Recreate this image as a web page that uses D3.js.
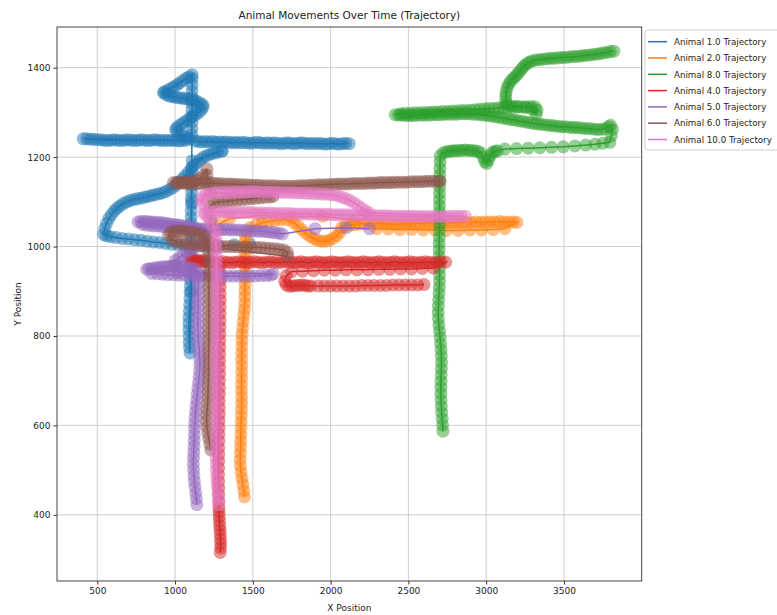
<!DOCTYPE html>
<html lang="en">
<head>
  <meta charset="UTF-8">
  <title>Animal Movements Over Time (Trajectory)</title>
</head>
<body>
<style>
  * {
    padding: 0;
    margin: 0;
  }

  #app {
    width: 777px;
    height: 615px;
    background: #fff;
  }

  #app svg {
    width: 100%;
    height: 100%;
    font-family: "DejaVu Sans", sans-serif;
  }
</style>

<div id="app"></div>

<script src="https://cdn.jsdelivr.net/npm/d3@7"></script>
<script>
  // legend order as in the figure
  var animals = ["1.0", "2.0", "8.0", "4.0", "5.0", "6.0", "10.0"];
  var colors = ["#1f77b4", "#ff7f0e", "#2ca02c", "#d62728", "#9467bd", "#8c564b", "#e377c2"];
  var xTicks = [500, 1000, 1500, 2000, 2500, 3000, 3500];
  var yTicks = [400, 600, 800, 1000, 1200, 1400];

  // positions, [x, y] in the order the animal walked
  var animal1 = [
    [1480, 1006], [1380, 1004], [1280, 1002], [1180, 1001], [1100, 1000],
    [1060, 1002], [1020, 1004], [980, 1005], [940, 1007], [900, 1009], [860, 1010], [820, 1012], [780, 1014], [740, 1015], [700, 1017],
    [660, 1018], [620, 1020], [585, 1022], [560, 1024], [540, 1027],
    [548, 1040], [560, 1052], [575, 1063], [592, 1072], [610, 1080], [628, 1086], [646, 1091], [668, 1096], [690, 1100], [712, 1103],
    [735, 1105], [758, 1107], [780, 1108], [803, 1110], [826, 1112], [849, 1114], [872, 1116], [895, 1118], [918, 1120], [940, 1123],
    [962, 1127], [984, 1131], [1005, 1137], [1025, 1144], [1045, 1151], [1065, 1158], [1085, 1166], [1105, 1174], [1125, 1182], [1145, 1189],
    [1165, 1195], [1185, 1200], [1207, 1204], [1230, 1207], [1252, 1209], [1275, 1211], [1298, 1213], [1305, 1214],
    [1110, 1192], [1109, 1178], [1108, 1164], [1107, 1150], [1106, 1136], [1106, 1122], [1105, 1108], [1105, 1094], [1104, 1080], [1104, 1066],
    [1103, 1052], [1103, 1038], [1102, 1024], [1102, 1010], [1101, 996], [1101, 982], [1100, 968], [1100, 954], [1099, 940], [1099, 926],
    [1098, 912], [1097, 898], [1096, 884], [1094, 870], [1092, 856], [1090, 842], [1089, 828], [1089, 814], [1090, 800], [1091, 786],
    [1093, 774], [1096, 762],
    [1104, 900], [1107, 1100], [1108, 1250], [1108, 1264], [1108, 1278], [1108, 1292], [1109, 1306], [1109, 1320], [1109, 1334], [1109, 1348],
    [1110, 1362], [1110, 1376], [1110, 1384],
    [1090, 1380], [1070, 1376], [1050, 1371], [1030, 1366], [1010, 1361], [990, 1357], [970, 1353], [950, 1349], [932, 1346], [925, 1344],
    [940, 1340], [960, 1337], [980, 1335], [1000, 1334], [1020, 1333], [1040, 1332], [1060, 1331], [1080, 1330], [1100, 1329], [1120, 1327],
    [1140, 1325], [1160, 1321], [1178, 1317], [1180, 1312], [1168, 1305], [1150, 1299], [1130, 1294], [1110, 1290], [1090, 1285], [1070, 1281],
    [1050, 1276], [1030, 1271], [1012, 1266], [1003, 1261], [1015, 1256], [1035, 1251], [1055, 1247], [1075, 1243], [1095, 1240],
    [1070, 1238], [1048, 1237], [1026, 1236], [1004, 1237], [982, 1238], [960, 1237], [938, 1238], [916, 1237], [894, 1238], [872, 1239],
    [850, 1238], [828, 1237], [806, 1238], [784, 1239], [762, 1238], [740, 1237], [718, 1238], [696, 1239], [674, 1238], [652, 1237],
    [630, 1238], [608, 1239], [586, 1238], [564, 1237], [542, 1238], [520, 1239], [498, 1239], [476, 1240], [454, 1240], [432, 1241], [410, 1241],
    [1130, 1236], [1152, 1235], [1174, 1234], [1196, 1235], [1218, 1234], [1240, 1235], [1262, 1233], [1284, 1234], [1306, 1233], [1328, 1234],
    [1350, 1233], [1372, 1232], [1394, 1233], [1416, 1232], [1438, 1233], [1460, 1232], [1482, 1231], [1504, 1232], [1526, 1233], [1548, 1232],
    [1570, 1231], [1592, 1232], [1614, 1231], [1636, 1232], [1658, 1231], [1680, 1230], [1702, 1231], [1724, 1232], [1746, 1231], [1768, 1230],
    [1790, 1231], [1812, 1232], [1834, 1231], [1856, 1230], [1878, 1231], [1900, 1230], [1922, 1231], [1944, 1230], [1966, 1229], [1988, 1230],
    [2010, 1231], [2032, 1230], [2054, 1229], [2076, 1230], [2098, 1231], [2120, 1230]
  ];

  var animal2 = [
    [1446, 440], [1442, 454], [1436, 468], [1430, 482], [1424, 496], [1420, 510], [1419, 524], [1420, 538], [1421, 552], [1422, 566],
    [1423, 580], [1424, 594], [1425, 608], [1426, 622], [1427, 636], [1428, 650], [1428, 664], [1427, 678], [1427, 692], [1428, 706],
    [1428, 720], [1429, 734], [1428, 748], [1429, 762], [1429, 776], [1430, 790], [1431, 804], [1434, 818], [1438, 832], [1442, 846],
    [1446, 860], [1448, 874], [1449, 888], [1449, 902], [1450, 916], [1450, 930], [1450, 944], [1451, 958], [1451, 972], [1452, 986],
    [1452, 1000], [1452, 1012], [1453, 1024],
    [1480, 1042], [1520, 1048], [1560, 1053], [1600, 1056], [1640, 1058], [1680, 1060], [1720, 1060], [1760, 1054],
    [1790, 1046], [1815, 1038], [1840, 1030], [1865, 1023], [1890, 1018], [1915, 1014], [1940, 1012], [1965, 1012], [1990, 1014], [2015, 1018],
    [2040, 1024], [2060, 1032], [2070, 1042],
    [2095, 1047], [2125, 1048], [2155, 1049], [2185, 1050], [2215, 1051], [2245, 1052], [2275, 1052], [2305, 1052], [2335, 1051], [2365, 1051],
    [2395, 1050], [2425, 1050], [2455, 1050], [2485, 1051], [2515, 1051], [2545, 1052], [2575, 1052], [2605, 1052], [2635, 1053], [2665, 1052],
    [2695, 1053], [2725, 1053], [2755, 1053], [2785, 1054], [2815, 1053], [2845, 1054], [2875, 1054], [2905, 1054], [2935, 1055], [2965, 1054],
    [2995, 1055], [3025, 1055], [3055, 1055], [3085, 1056], [3115, 1055], [3145, 1055], [3175, 1055], [3198, 1054],
    [3120, 1040], [3045, 1038], [2970, 1037], [2895, 1037], [2820, 1036], [2745, 1036], [2670, 1037], [2595, 1037], [2520, 1038], [2445, 1038],
    [2370, 1039], [2295, 1040],
    [2150, 1060], [1950, 1068], [1750, 1066], [1550, 1070], [1350, 1062], [1280, 1050]
  ];

  var animal8 = [
    [2722, 587], [2720, 601], [2717, 615], [2714, 629], [2712, 643], [2710, 657], [2709, 671], [2709, 685], [2710, 699], [2711, 713],
    [2712, 727], [2713, 741], [2712, 755], [2710, 769], [2707, 783], [2704, 797], [2700, 811], [2696, 825], [2693, 839], [2692, 853],
    [2693, 867], [2695, 881], [2697, 895], [2699, 909], [2700, 923], [2700, 937], [2700, 951], [2699, 965], [2698, 979], [2698, 993],
    [2698, 1007], [2699, 1021], [2700, 1035], [2701, 1049], [2701, 1063], [2701, 1077], [2700, 1091], [2700, 1105], [2700, 1119], [2701, 1133],
    [2702, 1147], [2702, 1161], [2703, 1175], [2704, 1189], [2705, 1203],
    [2725, 1210], [2745, 1212], [2765, 1213], [2785, 1214], [2805, 1214], [2825, 1215], [2845, 1215], [2865, 1216], [2885, 1215], [2905, 1215],
    [2925, 1214], [2945, 1213], [2965, 1210], [2980, 1200], [2992, 1190], [3004, 1186], [3015, 1194], [3028, 1204], [3042, 1211], [3058, 1213],
    [3072, 1214],
    [3120, 1218], [3195, 1219], [3270, 1220], [3345, 1221], [3420, 1222], [3495, 1223], [3570, 1225], [3640, 1227], [3700, 1229], [3750, 1231], [3795, 1233],
    [3805, 1248], [3812, 1262], [3800, 1271], [3785, 1268],
    [3760, 1263], [3735, 1262], [3710, 1262], [3685, 1263], [3660, 1264], [3635, 1264], [3610, 1265], [3585, 1266], [3560, 1266], [3535, 1267],
    [3510, 1268], [3485, 1268], [3460, 1269], [3435, 1270], [3410, 1271], [3385, 1272], [3360, 1273], [3335, 1274], [3310, 1275], [3285, 1277],
    [3260, 1278], [3235, 1280], [3210, 1281], [3185, 1283], [3160, 1284], [3135, 1286], [3110, 1287], [3085, 1289], [3060, 1290], [3035, 1292],
    [3010, 1293], [2985, 1294], [2960, 1295],
    [2935, 1296], [2910, 1296], [2885, 1297], [2860, 1297], [2835, 1297], [2810, 1296], [2785, 1296], [2760, 1296], [2735, 1296], [2710, 1295],
    [2685, 1295], [2660, 1295], [2635, 1294], [2610, 1294], [2585, 1294], [2560, 1294], [2535, 1293], [2510, 1293], [2485, 1293], [2460, 1294],
    [2438, 1294], [2416, 1295],
    [2450, 1297], [2480, 1298], [2510, 1298], [2540, 1299], [2570, 1299], [2600, 1300], [2630, 1300], [2660, 1301], [2690, 1301], [2720, 1302],
    [2750, 1302], [2780, 1303], [2810, 1303], [2840, 1304], [2870, 1304], [2900, 1305], [2930, 1306], [2960, 1307], [2990, 1308], [3020, 1309],
    [3050, 1309], [3080, 1310], [3110, 1311], [3140, 1311], [3170, 1311], [3200, 1312], [3230, 1312], [3260, 1312], [3290, 1313], [3315, 1312],
    [3327, 1305], [3322, 1296],
    [3290, 1308], [3250, 1312], [3200, 1314], [3160, 1315], [3130, 1317],
    [3126, 1325], [3126, 1335], [3128, 1345], [3134, 1355], [3145, 1363], [3158, 1370], [3172, 1375], [3186, 1380], [3200, 1385], [3214, 1391],
    [3228, 1397], [3242, 1403], [3258, 1408], [3275, 1412], [3295, 1415], [3318, 1417], [3342, 1418], [3366, 1419], [3390, 1420], [3414, 1421],
    [3438, 1421], [3462, 1422], [3486, 1423], [3510, 1423], [3534, 1424], [3558, 1425], [3582, 1425], [3606, 1426], [3630, 1427], [3654, 1428],
    [3678, 1429], [3702, 1430], [3726, 1431], [3750, 1433], [3774, 1434], [3798, 1436], [3821, 1437]
  ];

  var animal4 = [
    [1290, 316], [1293, 326], [1293, 336], [1292, 346], [1291, 356], [1289, 366], [1287, 376], [1285, 386], [1284, 396], [1283, 406],
    [1282, 416], [1282, 430], [1281, 445], [1281, 460], [1280, 475], [1280, 490], [1280, 505], [1280, 520], [1281, 535], [1281, 550],
    [1282, 565], [1282, 580], [1283, 595], [1283, 610], [1284, 625], [1284, 640], [1284, 655], [1285, 670], [1285, 685], [1285, 700],
    [1286, 715], [1286, 730], [1286, 745], [1287, 760], [1287, 775], [1288, 790], [1288, 805], [1289, 820], [1289, 835], [1290, 850],
    [1290, 865], [1290, 880], [1290, 895], [1290, 910], [1290, 925], [1289, 940], [1288, 955],
    [1260, 962], [1235, 965], [1210, 967], [1185, 968], [1160, 969], [1135, 970], [1110, 970], [1090, 972],
    [1110, 967], [1135, 966], [1160, 966], [1185, 965], [1210, 966], [1235, 965], [1260, 964], [1285, 965], [1310, 966], [1335, 965],
    [1360, 964], [1385, 965], [1410, 966], [1435, 965], [1460, 964], [1485, 965], [1510, 966], [1535, 965], [1560, 964], [1585, 965],
    [1610, 966], [1635, 965], [1660, 964], [1685, 965], [1710, 966], [1735, 965], [1760, 964], [1785, 965], [1810, 966], [1835, 965],
    [1860, 964], [1885, 965], [1910, 966], [1935, 965], [1960, 964], [1985, 965], [2010, 966], [2035, 965], [2060, 964], [2085, 965],
    [2110, 966], [2135, 965], [2160, 964], [2185, 965], [2210, 966], [2235, 965], [2260, 964], [2285, 965], [2310, 966], [2335, 965],
    [2360, 964], [2385, 965], [2410, 966], [2435, 965], [2460, 964], [2485, 965], [2510, 966], [2535, 965], [2560, 964], [2585, 965],
    [2610, 966], [2635, 965], [2660, 964], [2685, 965], [2710, 966], [2740, 965],
    [2660, 952], [2590, 951], [2520, 950], [2450, 950], [2380, 949], [2310, 949], [2240, 948], [2170, 948], [2100, 948], [2030, 947],
    [1960, 947], [1890, 946], [1820, 945], [1750, 944],
    [1715, 935], [1705, 922], [1715, 914], [1735, 911], [1755, 912], [1775, 913], [1795, 913], [1815, 914], [1835, 913], [1855, 912], [1875, 912],
    [1920, 912], [1960, 912], [2000, 912], [2040, 912], [2080, 912], [2120, 912], [2160, 912], [2200, 913], [2240, 913], [2280, 913],
    [2320, 913], [2360, 913], [2400, 914], [2440, 914], [2480, 914], [2520, 914], [2560, 914], [2600, 915]
  ];

  var animal5 = [
    [1140, 423], [1137, 436], [1133, 449], [1128, 462], [1124, 475], [1121, 488], [1119, 501], [1118, 514], [1119, 527], [1120, 540],
    [1122, 553], [1123, 566], [1124, 579], [1125, 592], [1127, 605], [1129, 618], [1132, 631], [1135, 644], [1139, 657], [1143, 670],
    [1147, 683], [1151, 696], [1155, 709], [1158, 722], [1160, 735], [1159, 748], [1157, 761], [1154, 774], [1151, 787], [1149, 800],
    [1147, 813], [1146, 826], [1146, 839], [1147, 852], [1147, 865], [1148, 878], [1149, 891], [1150, 904], [1150, 917], [1148, 930],
    [1142, 942], [1130, 950],
    [1110, 952], [1090, 953], [1070, 954], [1050, 955], [1030, 955], [1010, 956], [990, 956], [970, 956], [950, 955], [930, 955],
    [910, 954], [890, 953], [870, 952], [850, 951], [832, 950], [818, 949],
    [850, 940], [885, 939], [920, 938], [955, 937], [990, 937], [1025, 936], [1060, 936], [1095, 936], [1130, 935], [1165, 935],
    [1200, 935], [1235, 934], [1270, 934], [1305, 934], [1340, 934], [1375, 934], [1410, 934], [1445, 934], [1480, 934], [1515, 934],
    [1550, 935], [1585, 935], [1615, 936], [1632, 939],
    [1020, 942], [1000, 958],
    [1000, 968], [1025, 975], [1050, 982], [1075, 988], [1100, 993], [1125, 997], [1150, 1001], [1170, 1006], [1185, 1013], [1185, 1025],
    [1160, 1036], [1140, 1039], [1120, 1041], [1100, 1043], [1080, 1045], [1060, 1046], [1040, 1047], [1020, 1048], [1000, 1049], [980, 1050],
    [960, 1051], [940, 1052], [920, 1053], [900, 1054], [880, 1054], [860, 1055], [840, 1055], [820, 1056], [800, 1056], [780, 1056], [762, 1055],
    [790, 1050], [815, 1048], [840, 1047], [865, 1046], [890, 1046], [915, 1045], [940, 1044], [965, 1044], [990, 1043], [1015, 1042],
    [1040, 1041], [1065, 1041], [1090, 1040], [1115, 1040], [1140, 1040], [1165, 1040], [1190, 1039], [1215, 1039], [1240, 1039], [1265, 1038],
    [1290, 1038], [1315, 1038], [1340, 1038], [1365, 1037], [1390, 1037], [1415, 1037], [1440, 1036], [1465, 1036], [1490, 1035], [1515, 1035],
    [1540, 1034], [1565, 1034], [1590, 1033], [1615, 1032], [1640, 1031], [1665, 1030], [1690, 1028],
    [1900, 1040], [2100, 1042], [2250, 1040]
  ];

  var animal6 = [
    [1230, 545], [1224, 558], [1217, 571], [1210, 584], [1205, 597], [1203, 610], [1204, 623], [1207, 636], [1209, 649], [1211, 662],
    [1212, 675], [1213, 688], [1214, 701], [1215, 714], [1215, 727], [1216, 740], [1216, 753], [1216, 766], [1216, 779], [1217, 792],
    [1217, 805], [1217, 818], [1218, 831], [1218, 844], [1218, 857], [1218, 870], [1218, 883], [1218, 896], [1218, 909], [1218, 922],
    [1218, 935], [1217, 948], [1217, 961], [1216, 974], [1215, 987], [1213, 1000], [1210, 1013],
    [1190, 1024], [1165, 1028], [1140, 1030], [1115, 1032], [1090, 1033], [1065, 1034], [1040, 1035], [1015, 1035], [990, 1034], [970, 1032], [958, 1026],
    [980, 1014], [1010, 1010], [1040, 1008], [1070, 1006], [1100, 1005], [1130, 1004], [1160, 1003], [1190, 1003], [1220, 1002], [1250, 1001],
    [1280, 1001], [1310, 1000], [1340, 1000], [1370, 1000], [1400, 999], [1430, 999], [1460, 999], [1490, 998], [1520, 998], [1550, 998],
    [1580, 997], [1610, 996], [1640, 995], [1670, 994], [1700, 992], [1722, 987], [1725, 978],
    [1260, 998], [1232, 1010], [1230, 1060], [1225, 1090],
    [1250, 1098], [1280, 1100], [1310, 1101], [1340, 1102], [1370, 1103], [1400, 1104], [1430, 1105], [1460, 1106], [1490, 1107], [1520, 1108],
    [1550, 1109], [1580, 1110], [1610, 1111], [1630, 1112],
    [1230, 1120], [1210, 1140], [1205, 1160], [1205, 1174],
    [1185, 1160], [1160, 1152], [1135, 1148], [1110, 1146], [1085, 1145], [1060, 1144], [1035, 1143], [1010, 1143], [990, 1143],
    [1015, 1142], [1040, 1142], [1065, 1141], [1090, 1141], [1115, 1141], [1140, 1140], [1165, 1141], [1190, 1142], [1215, 1143], [1240, 1142],
    [1265, 1141], [1290, 1141], [1315, 1140], [1340, 1140], [1365, 1140], [1390, 1139], [1415, 1139], [1440, 1138], [1465, 1138], [1490, 1137],
    [1515, 1137], [1540, 1137], [1565, 1136], [1590, 1136], [1615, 1136], [1640, 1136], [1665, 1135], [1690, 1135], [1715, 1135], [1740, 1135],
    [1765, 1135], [1790, 1136], [1815, 1136], [1840, 1136], [1865, 1137], [1890, 1137], [1915, 1138], [1940, 1138], [1965, 1138], [1990, 1139],
    [2015, 1139], [2040, 1140], [2065, 1140], [2090, 1140], [2115, 1140], [2140, 1141], [2165, 1141], [2190, 1141], [2215, 1141], [2240, 1142],
    [2265, 1142], [2290, 1142], [2315, 1143], [2340, 1143], [2365, 1143], [2390, 1143], [2415, 1144], [2440, 1144], [2465, 1144], [2490, 1144],
    [2515, 1145], [2540, 1145], [2565, 1145], [2590, 1145], [2615, 1146], [2640, 1146], [2665, 1146], [2690, 1146], [2704, 1146]
  ];

  var animal10 = [
    [1280, 423], [1278, 436], [1275, 449], [1272, 462], [1269, 475], [1267, 488], [1265, 501], [1264, 514], [1264, 527], [1265, 540],
    [1265, 553], [1266, 566], [1266, 579], [1267, 592], [1267, 605], [1268, 618], [1268, 631], [1268, 644], [1268, 657], [1268, 670],
    [1267, 683], [1267, 696], [1266, 709], [1266, 722], [1265, 735], [1265, 748], [1265, 761], [1265, 774], [1266, 787], [1266, 800],
    [1267, 813], [1267, 826], [1268, 839], [1268, 852], [1268, 865], [1268, 878], [1268, 891], [1267, 904], [1267, 917], [1266, 930],
    [1266, 943], [1266, 956], [1266, 969], [1265, 982], [1265, 995], [1264, 1008], [1263, 1021], [1262, 1034],
    [1240, 1050], [1215, 1062], [1190, 1072],
    [1190, 1077], [1215, 1078], [1240, 1078], [1265, 1077], [1290, 1077], [1315, 1077], [1340, 1077], [1365, 1076], [1390, 1076], [1415, 1076],
    [1440, 1076], [1465, 1076], [1490, 1076], [1515, 1075], [1540, 1075], [1565, 1075], [1590, 1075], [1615, 1075], [1640, 1074], [1665, 1074],
    [1690, 1074], [1715, 1074], [1740, 1074], [1765, 1073], [1790, 1073], [1815, 1073], [1840, 1073], [1865, 1073], [1890, 1072], [1915, 1072],
    [1940, 1072], [1965, 1072], [1990, 1072], [2015, 1071], [2040, 1071], [2065, 1071], [2090, 1071], [2115, 1071], [2140, 1070], [2165, 1070],
    [2190, 1070], [2215, 1070], [2240, 1070], [2265, 1069], [2290, 1069], [2315, 1069], [2340, 1069], [2365, 1069], [2390, 1068], [2415, 1068],
    [2440, 1068], [2465, 1068], [2490, 1068], [2515, 1068], [2540, 1068], [2565, 1067], [2590, 1067], [2615, 1067], [2640, 1067], [2665, 1067],
    [2690, 1067], [2715, 1067], [2740, 1067], [2765, 1067], [2790, 1068], [2815, 1068], [2840, 1068], [2866, 1068],
    [2250, 1075],
    [2225, 1080], [2200, 1086], [2175, 1092], [2150, 1098], [2125, 1103], [2100, 1107], [2075, 1110], [2050, 1113], [2025, 1115], [2000, 1116],
    [1975, 1117], [1950, 1117], [1925, 1118], [1900, 1118], [1875, 1119], [1850, 1119], [1825, 1120], [1800, 1120], [1775, 1120], [1750, 1121],
    [1725, 1121], [1700, 1121], [1675, 1121], [1650, 1122], [1625, 1122], [1600, 1122], [1575, 1122], [1550, 1122], [1525, 1123], [1500, 1123],
    [1475, 1123], [1450, 1122], [1425, 1122], [1400, 1122], [1375, 1122], [1350, 1121], [1325, 1121], [1300, 1121], [1275, 1120], [1250, 1120],
    [1225, 1119], [1200, 1117], [1180, 1112], [1170, 1104], [1175, 1095]
  ];

  var tracks = [animal1, animal2, animal8, animal4, animal5, animal6, animal10];

  var W = 777, H = 615,
    m = {left: 57, right: 777 - 641.7, top: 27, bottom: 615 - 581};

  var svg = d3.select('#app').append('svg').attr('viewBox', '0,0 ' + W + ',' + H);

  var x = d3.scaleLinear().domain([241, 4000]).range([m.left, W - m.right]);
  var y = d3.scaleLinear().domain([252, 1491]).range([H - m.bottom, m.top]);

  // grid
  svg.append('g').selectAll('line').data(xTicks).join('line')
    .attr('x1', d => x(d)).attr('x2', d => x(d))
    .attr('y1', y.range()[0]).attr('y2', y.range()[1])
    .attr('stroke', '#c8c8c8').attr('stroke-width', 0.9);
  svg.append('g').selectAll('line').data(yTicks).join('line')
    .attr('y1', d => y(d)).attr('y2', d => y(d))
    .attr('x1', x.range()[0]).attr('x2', x.range()[1])
    .attr('stroke', '#c8c8c8').attr('stroke-width', 0.9);

  svg.append('clipPath').attr('id', 'plot')
    .append('rect').attr('x', x.range()[0]).attr('y', y.range()[1])
    .attr('width', x.range()[1] - x.range()[0]).attr('height', y.range()[0] - y.range()[1]);

  var plot = svg.append('g').attr('clip-path', 'url(#plot)');
  var line = d3.line().x(d => x(d[0])).y(d => y(d[1]));

  tracks.forEach(function (pts, i) {
    var g = plot.append('g');
    g.append('path')
      .attr('d', line(pts))
      .attr('fill', 'none').attr('stroke', colors[i]).attr('stroke-width', 1.5);
    g.selectAll('circle').data(pts).join('circle')
      .attr('cx', d => x(d[0])).attr('cy', d => y(d[1])).attr('r', 6.5)
      .attr('fill', colors[i]).attr('fill-opacity', 0.5);
  });

  // axes
  var fmt = d3.format('d');
  var xAxis = svg.append('g').attr('transform', 'translate(0,' + y.range()[0] + ')')
    .call(d3.axisBottom(x).tickValues(xTicks).tickFormat(fmt).tickSize(3.5).tickSizeOuter(0).tickPadding(3));
  var yAxis = svg.append('g').attr('transform', 'translate(' + x.range()[0] + ',0)')
    .call(d3.axisLeft(y).tickValues(yTicks).tickFormat(fmt).tickSize(3.5).tickSizeOuter(0).tickPadding(3));
  [xAxis, yAxis].forEach(function (a) {
    a.select('.domain').remove();
    a.selectAll('line').attr('stroke', '#333');
    a.selectAll('text').attr('font-family', '"DejaVu Sans", sans-serif').attr('font-size', 9).attr('fill', '#222');
  });

  svg.append('rect')
    .attr('x', x.range()[0]).attr('y', y.range()[1])
    .attr('width', x.range()[1] - x.range()[0]).attr('height', y.range()[0] - y.range()[1])
    .attr('fill', 'none').attr('stroke', '#333').attr('stroke-width', 0.9);

  svg.append('text').attr('x', (x.range()[0] + x.range()[1]) / 2).attr('y', 19)
    .attr('text-anchor', 'middle').attr('font-size', 10.5).attr('fill', '#222')
    .text('Animal Movements Over Time (Trajectory)');
  svg.append('text').attr('x', (x.range()[0] + x.range()[1]) / 2).attr('y', 611)
    .attr('text-anchor', 'middle').attr('font-size', 9).attr('fill', '#222')
    .text('X Position');
  svg.append('text').attr('transform', 'translate(21,' + ((y.range()[0] + y.range()[1]) / 2) + ') rotate(-90)')
    .attr('text-anchor', 'middle').attr('font-size', 9).attr('fill', '#222')
    .text('Y Position');

  // legend
  var legend = svg.append('g').attr('transform', 'translate(645,30)');
  legend.append('rect').attr('width', 140).attr('height', 120).attr('rx', 3)
    .attr('fill', '#fff').attr('fill-opacity', 0.8).attr('stroke', '#d0d0d0');
  var item = legend.selectAll('g.item').data(animals).join('g').attr('class', 'item')
    .attr('transform', (d, i) => 'translate(0,' + (11.7 + i * 16.3) + ')');
  item.append('line').attr('x1', 3).attr('x2', 22).attr('stroke', (d, i) => colors[i]).attr('stroke-width', 1.5);
  item.append('text').attr('x', 29).attr('y', 3.2).attr('font-size', 8.7).attr('fill', '#222')
    .text(d => 'Animal ' + d + ' Trajectory');
</script>

</body>
</html>
